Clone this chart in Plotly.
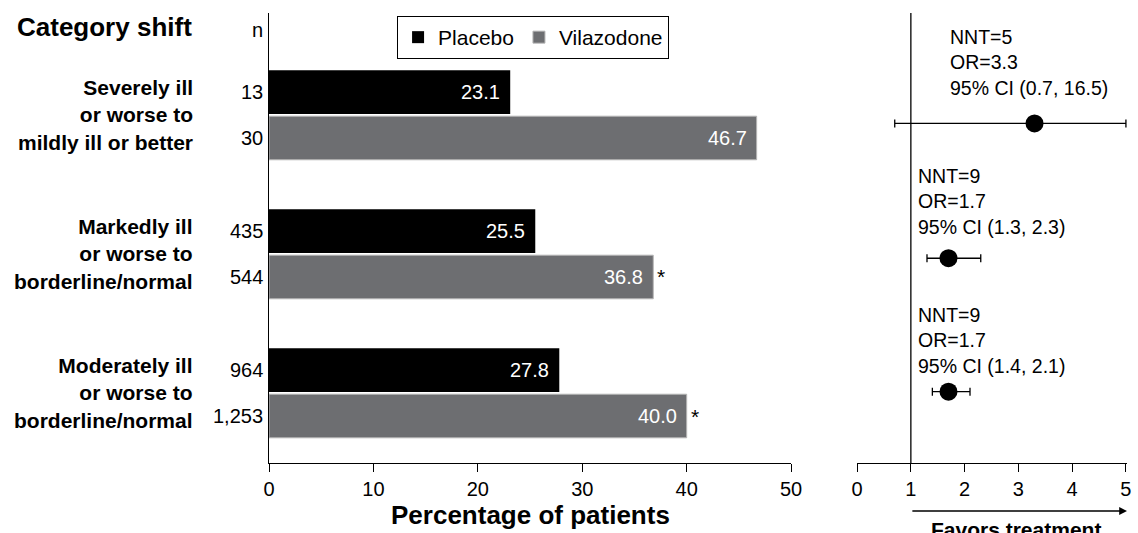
import plotly.graph_objects as go

# ---------------- data ----------------
categories = [
    "Severely ill<br>or worse to<br>mildly ill or better",
    "Markedly ill<br>or worse to<br>borderline/normal",
    "Moderately ill<br>or worse to<br>borderline/normal",
]
n_placebo = ["13", "435", "964"]
n_vilazodone = ["30", "544", "1,253"]
placebo_pct = [23.1, 25.5, 27.8]
vilazodone_pct = [46.7, 36.8, 40.0]
significant = [False, True, True]

nnt = [5, 9, 9]
odds_ratio = [3.3, 1.7, 1.7]
ci_low = [0.7, 1.3, 1.4]
ci_high = [16.5, 2.3, 2.1]

pct_ticks = [0, 10, 20, 30, 40, 50]
or_ticks = [0, 1, 2, 3, 4, 5]

# ---------------- style / layout ----------------
W, H = 1138, 533
FONT = "Liberation Sans, Arial, sans-serif"
BLACK = "#000000"
GREY = "#6d6e71"
PLOT_TOP, PLOT_BOT = 13, 463          # pixel rows of plot area
LEFT_X0, LEFT_X1 = 267, 797           # pixel columns of left axis
RIGHT_X0 = 864
Y_RANGE = [2.503, -0.734]
BARGAP = 0.34
OR_MAX = 5.02
forest_offset = [0.06, 0.03, -0.01]
text_offset = -0.38
text_xshift = [37, 5, 5]


def py(pix):
    """pixel row -> paper y"""
    return (PLOT_BOT - pix) / (PLOT_BOT - PLOT_TOP)


def px(pix):
    return pix / W


idx = list(range(len(categories)))
half = (1 - BARGAP) / 4.0

fig = go.Figure()
fig.add_trace(go.Bar(
    y=idx, x=placebo_pct, orientation="h", name="Placebo",
    marker=dict(color=BLACK, line=dict(width=0)),
    xaxis="x", yaxis="y", hoverinfo="skip",
))
fig.add_trace(go.Bar(
    y=idx, x=vilazodone_pct, orientation="h", name="Vilazodone",
    marker=dict(color=GREY, line=dict(color="#b5b5b5", width=1)),
    xaxis="x", yaxis="y", hoverinfo="skip",
))

# forest plot
err_plus = [min(h, or_ticks[-1]) - o for h, o in zip(ci_high, odds_ratio)]
err_minus = [o - l for o, l in zip(odds_ratio, ci_low)]
fig.add_trace(go.Scatter(
    x=odds_ratio, y=[i + forest_offset[i] for i in idx],
    mode="markers", xaxis="x2", yaxis="y", showlegend=False,
    marker=dict(color=BLACK, size=18),
    error_x=dict(type="data", symmetric=False, array=err_plus,
                 arrayminus=err_minus, color=BLACK, thickness=1.3, width=4),
    hoverinfo="skip",
))

ann = []
# title & headers
ann.append(dict(text="<b>Category shift</b>", x=px(191), y=py(27), xref="paper", yref="paper",
                xanchor="right", yanchor="middle", showarrow=False,
                font=dict(size=26, color=BLACK, family=FONT)))
ann.append(dict(text="n", x=px(263), y=py(30), xref="paper", yref="paper",
                xanchor="right", yanchor="middle", showarrow=False,
                font=dict(size=20, color=BLACK, family=FONT)))
for i in idx:
    ann.append(dict(text="<b>" + categories[i] + "</b>", x=px(192), y=i, xref="paper", yref="y",
                    xanchor="right", yanchor="middle", align="right", showarrow=False,
                    font=dict(size=21, color=BLACK, family=FONT)))
    ann.append(dict(text=n_placebo[i], x=px(263), y=i - half, xref="paper", yref="y",
                    xanchor="right", yanchor="middle", showarrow=False,
                    font=dict(size=20, color=BLACK, family=FONT)))
    ann.append(dict(text=n_vilazodone[i], x=px(263), y=i + half, xref="paper", yref="y",
                    xanchor="right", yanchor="middle", showarrow=False,
                    font=dict(size=20, color=BLACK, family=FONT)))
    ann.append(dict(text=f"{placebo_pct[i]:.1f}", x=placebo_pct[i], y=i - half, xref="x", yref="y",
                    xanchor="right", yanchor="middle", xshift=-8, showarrow=False,
                    font=dict(size=20, color="white", family=FONT)))
    ann.append(dict(text=f"{vilazodone_pct[i]:.1f}", x=vilazodone_pct[i], y=i + half, xref="x", yref="y",
                    xanchor="right", yanchor="middle", xshift=-8, showarrow=False,
                    font=dict(size=20, color="white", family=FONT)))
    if significant[i]:
        ann.append(dict(text="*", x=vilazodone_pct[i], y=i + half, xref="x", yref="y",
                        xanchor="left", yanchor="middle", xshift=2, showarrow=False,
                        font=dict(size=21, color=BLACK, family=FONT)))
    ann.append(dict(text=f"NNT={nnt[i]}<br>OR={odds_ratio[i]}<br>95% CI ({ci_low[i]}, {ci_high[i]})",
                    x=1, y=i + text_offset, xref="x2", yref="y", xanchor="left", yanchor="middle",
                    align="left", xshift=text_xshift[i], showarrow=False,
                    font=dict(size=19.5, color=BLACK, family=FONT)))

# axis titles
ann.append(dict(text="<b>Percentage of patients</b>", x=px((LEFT_X0 + LEFT_X1) / 2), y=py(515),
                xref="paper", yref="paper", xanchor="center", yanchor="middle", showarrow=False,
                font=dict(size=26, color=BLACK, family=FONT)))
ann.append(dict(text="", x=OR_MAX, y=py(511), xref="x2", yref="paper",
                ax=1, ay=0, axref="x2", ayref="pixel", showarrow=True,
                arrowhead=2, arrowsize=1.2, arrowwidth=1.3, arrowcolor=BLACK, standoff=0))
ann.append(dict(text="<b>Favors treatment</b>", x=px(1025), y=py(529), xref="paper", yref="paper",
                xanchor="center", yanchor="middle", showarrow=False,
                font=dict(size=21, color=BLACK, family=FONT)))

shapes = [dict(type="line", xref="x2", yref="y domain", x0=1, x1=1, y0=0, y1=1,
               line=dict(color=BLACK, width=1.3))]

axis_common = dict(showline=True, linecolor=BLACK, linewidth=1.3, ticks="outside",
                   ticklen=8, tickwidth=1.3, tickcolor=BLACK, showgrid=False, zeroline=False,
                   tickfont=dict(size=20, color=BLACK, family=FONT), fixedrange=True)

fig.update_layout(
    width=W, height=H,
    margin=dict(l=0, r=0, t=PLOT_TOP, b=H - PLOT_BOT, pad=0),
    paper_bgcolor="white", plot_bgcolor="white",
    barmode="group", bargap=BARGAP, bargroupgap=0.05,
    font=dict(family=FONT, color=BLACK),
    xaxis=dict(domain=[px(LEFT_X0), px(LEFT_X1)], range=[0, pct_ticks[-1]],
               tickvals=pct_ticks, anchor="y", **axis_common),
    xaxis2=dict(domain=[px(RIGHT_X0), 1.0], range=[0, OR_MAX],
                tickvals=or_ticks, anchor="y", **axis_common),
    yaxis=dict(domain=[0, 1], range=Y_RANGE, showline=True, linecolor=BLACK, linewidth=1.3,
               showticklabels=False, ticks="", showgrid=False, zeroline=False, fixedrange=True),
    legend=dict(orientation="h", x=px(397), y=py(16), xanchor="left", yanchor="top",
                bordercolor=BLACK, borderwidth=1, font=dict(size=21, color=BLACK, family=FONT),
                bgcolor="white", traceorder="normal"),
    annotations=ann, shapes=shapes,
)

fig.write_html(
    "out.html",
    config={"displayModeBar": False},
    post_script="document.body.style.margin='0';document.body.style.overflow='hidden';",
)
